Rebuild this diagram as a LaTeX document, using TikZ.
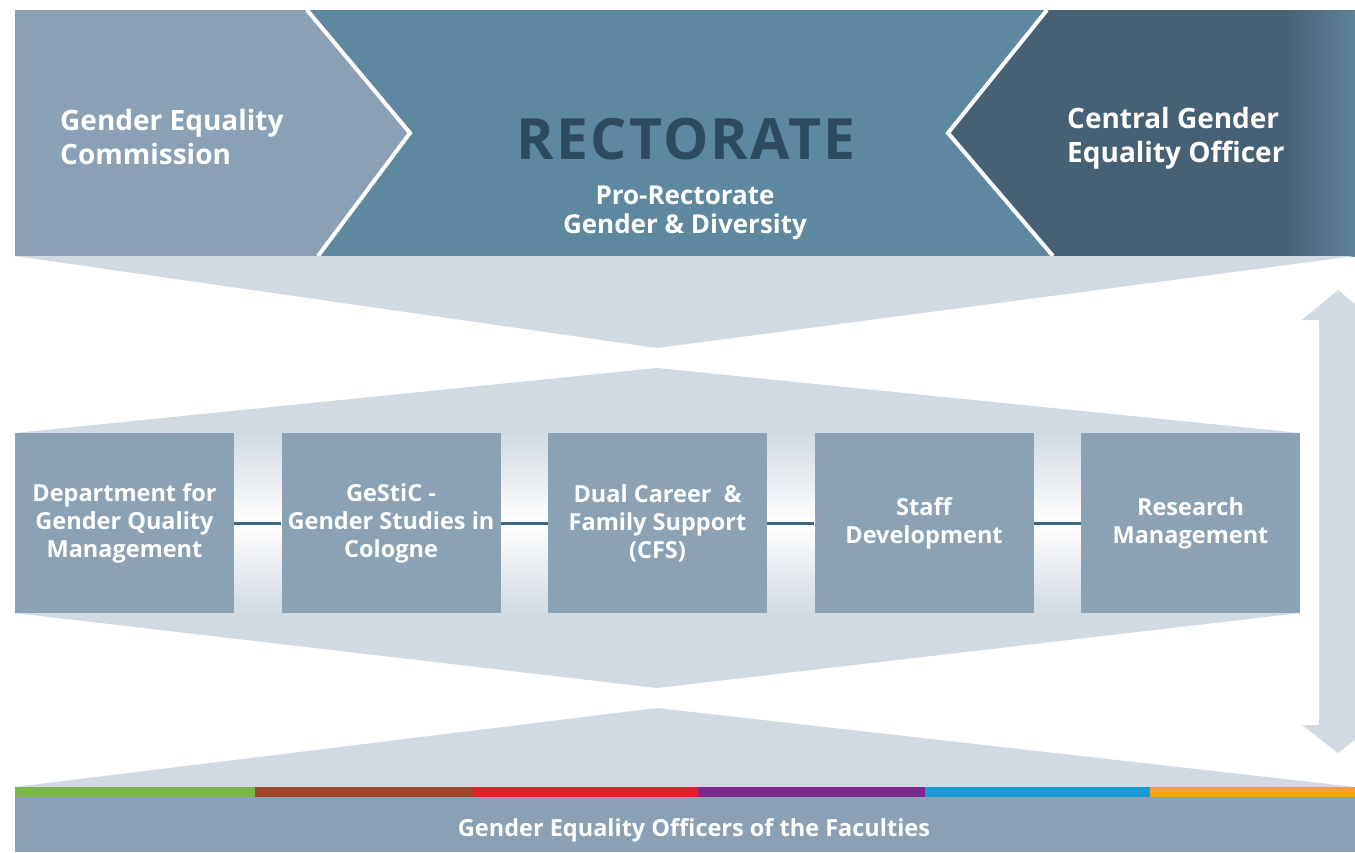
\documentclass[tikz,border=0pt]{standalone}
\usepackage{fontspec}
\setmainfont{Open Sans}
\newfontfamily\spacedfont{Open Sans}[LetterSpace=4]
\definecolor{paleblue}{HTML}{8AA1B5}
\definecolor{midblue}{HTML}{5E87A0}
\definecolor{darkblue}{HTML}{476174}
\definecolor{edgeblue}{HTML}{5E829B}
\definecolor{inkblue}{HTML}{2D4A5E}
\definecolor{haze}{HTML}{D1DAE2}
\definecolor{boxblue}{HTML}{8BA1B4}
\definecolor{linkblue}{HTML}{3E687F}
\definecolor{fgreen}{HTML}{7AB648}
\definecolor{fbrown}{HTML}{A0442C}
\definecolor{fred}{HTML}{E3202A}
\definecolor{fpurple}{HTML}{7B2A8C}
\definecolor{fblue}{HTML}{1A9AD6}
\definecolor{forange}{HTML}{F6A31F}
\tikzset{
  toplabel/.style={text=white, align=left, inner sep=0pt,
    font=\bfseries\fontsize{28}{34}\selectfont},
  unitbox/.style={fill=boxblue, text=white, align=center, inner sep=0pt,
    minimum width=219pt, minimum height=180pt,
    font=\bfseries\fontsize{23.5}{28}\selectfont},
  link/.style={draw=linkblue, line width=3pt},
  divider/.style={draw=white, line width=4pt, line join=miter},
}
\begin{document}
\begin{tikzpicture}[x=1pt,y=-1pt]
\useasboundingbox (0,0) rectangle (1355,852);
\fill[white] (0,0) rectangle (1355,852);

% top band: commission | rectorate | central officer
\fill[paleblue] (15,10) -- (307,10) -- (410,133) -- (318,256) -- (15,256) -- cycle;
\fill[midblue] (307,10) -- (1047,10) -- (948,133) -- (1053,256) -- (318,256) -- (410,133) -- cycle;
\fill[darkblue] (1047,10) -- (1355,10) -- (1355,256) -- (1053,256) -- (948,133) -- cycle;
\shade[left color=darkblue, right color=edgeblue] (1285,10) rectangle (1355,256);
\draw[divider] (307,10) -- (410,133) -- (318,256);
\draw[divider] (1047,10) -- (948,133) -- (1053,256);

\node[toplabel, anchor=west] (commission) at (60,137) {Gender Equality\\Commission};
\node[toplabel, anchor=west] (officer) at (1067,138) {Central Gender\\Equality Officer};
\node[text=inkblue, inner sep=0pt, font=\spacedfont\bfseries\fontsize{57}{60}\selectfont] (rectorate) at (686,139) {RECTORATE};
\node[text=white, align=center, inner sep=0pt, font=\bfseries\fontsize{26}{29}\selectfont] (prorector) at (685,213) {Pro-Rectorate\\Gender \& Diversity};

% funnel below the top band
\fill[haze] (15,256) -- (1355,256) -- (657,348) -- cycle;

% middle band with the five units
\fill[haze] (15,433) -- (657,368) -- (1300,433) -- (1300,613) -- (657,688) -- (15,613) -- cycle;
\foreach \gx in {234,500.5,767,1033.5}
  \shade[top color=haze, bottom color=haze, middle color=white] (\gx,433) rectangle (\gx+47.5,613);

\node[unitbox] (b1) at (124.5,523) {Department for\\Gender Quality\\Management};
\node[unitbox] (b2) at (391,523) {GeStiC -\\Gender Studies in\\Cologne};
\node[unitbox] (b3) at (657.5,523) {Dual Career~~\&\\Family Support\\(CFS)};
\node[unitbox] (b4) at (924,523) {Staff\\Development};
\node[unitbox] (b5) at (1190.5,523) {Research\\Management};
\draw[link] (b1) -- (b2);
\draw[link] (b2) -- (b3);
\draw[link] (b3) -- (b4);
\draw[link] (b4) -- (b5);

% two-way arrow on the right
\fill[haze] (1338,290) -- (1374,320) -- (1357,320) -- (1357,725) -- (1374,725) -- (1338,753)
  -- (1302,725) -- (1319,725) -- (1319,320) -- (1302,320) -- cycle;

% faculties base
\fill[haze] (15,787) -- (657,708) -- (1355,787) -- cycle;
\fill[fgreen]  (15,787) rectangle (255,797);
\fill[fbrown]  (255,787) rectangle (474,797);
\fill[fred]    (474,787) rectangle (698,797);
\fill[fpurple] (698,787) rectangle (925,797);
\fill[fblue]   (925,787) rectangle (1150,797);
\fill[forange] (1150,787) rectangle (1355,797);
\fill[paleblue] (15,797) rectangle (1355,852);
\node[text=white, inner sep=0pt, font=\bfseries\fontsize{23.5}{26}\selectfont] (faculties) at (694,830) {Gender Equality Officers of the Faculties};
\end{tikzpicture}
\end{document}
